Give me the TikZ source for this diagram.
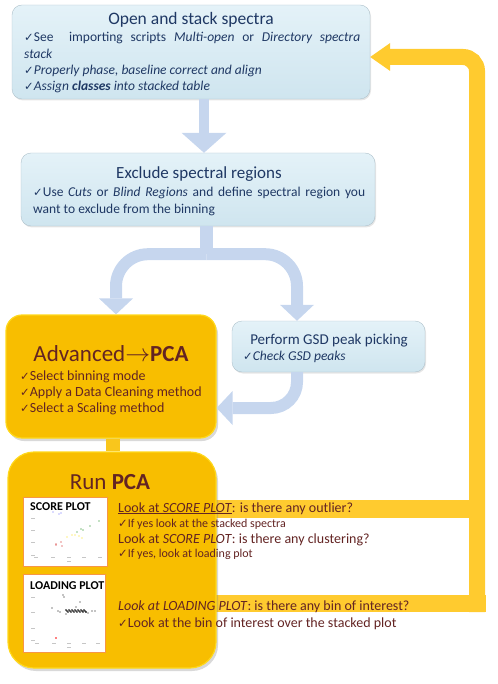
\documentclass[tikz,border=0pt]{standalone}
\usepackage{fontspec}
\setmainfont{Carlito}
\newfontfamily\symfont{DejaVu Sans}
\usetikzlibrary{arrows.meta,shadows}

\definecolor{bluetop}{HTML}{E4F2F8}
\definecolor{bluebot}{HTML}{CFE5EF}
\definecolor{boxedge}{HTML}{AFC2CC}
\definecolor{arrowblue}{HTML}{C6D6EE}
\definecolor{navy}{HTML}{1F3864}
\definecolor{goldfill}{HTML}{F8BE00}
\definecolor{goldedge}{HTML}{FFD81A}
\definecolor{goldlink}{HTML}{F9C61C}
\definecolor{loopyellow}{HTML}{FFCB2F}
\definecolor{maroon}{HTML}{632423}
\definecolor{plotorange}{HTML}{F79646}

\newcommand\chk{{\symfont\fontsize{11.5}{12}\selectfont ✓}}

\tikzset{
  bluebox/.style={draw=boxedge, rounded corners=10pt, top color=bluetop, bottom color=bluebot,
    drop shadow={opacity=0.2, shadow xshift=1pt, shadow yshift=-1.5pt}},
  goldbox/.style={draw=goldedge, line width=1.2pt, fill=goldfill,
    drop shadow={opacity=0.3, shadow xshift=2pt, shadow yshift=-3pt}},
  bluearrow/.style={draw=arrowblue, line width=12pt},
  looparrow/.style={draw=loopyellow, line width=16pt, rounded corners=14pt,
    -{Triangle[width=28pt,length=20pt,line width=0pt]}},
  plotbox/.style={draw=plotorange, line width=1pt, fill=white, inner sep=0pt},
  txt/.style={anchor=base west, inner sep=0pt},
  bluetitle/.style={anchor=base, inner sep=0pt, text=navy, font=\fontsize{17.5}{20}\selectfont},
  bluetext/.style={txt, text=navy, font=\fontsize{13.5}{16}\selectfont},
  goldtext/.style={txt, text=maroon, font=\fontsize{14}{16}\selectfont},
  smalltext/.style={txt, text=maroon, font=\fontsize{12}{14}\selectfont},
  plottitle/.style={txt, font=\bfseries\fontsize{12}{14}\selectfont},
  tick/.style={gray!45, line width=0.6pt}
}

\begin{document}
\begin{tikzpicture}[x=1pt,y=-1pt]
\useasboundingbox (0,0) rectangle (497,684);

% yellow bands behind the run box
\fill[loopyellow] (210,500) rectangle (477,518);
\fill[loopyellow] (210,595) rectangle (486,612);
\coordinate (loopBot) at (477,612);
\coordinate (loopTop) at (477,57);

% boxes
\node[bluebox, minimum width=358pt, minimum height=94pt] (open) at (191,52) {};
\node[bluebox, minimum width=354pt, minimum height=73pt] (exclude) at (198,189.5) {};
\node[goldbox, rounded corners=16pt, minimum width=210pt, minimum height=123pt] (adv) at (111,376.5) {};
\node[bluebox, minimum width=193pt, minimum height=51pt] (gsd) at (328.5,346.5) {};
\node[goldbox, rounded corners=26pt, minimum width=208pt, minimum height=216pt] (run) at (112,560) {};

% arrows
\draw[bluearrow, line width=10pt, -{Triangle[width=45pt,length=20pt,line width=0pt]}]
  ([xshift=13pt]open.south) -- ([xshift=6pt]exclude.north);
\coordinate (fork) at ([xshift=8.5pt,yshift=-28pt]exclude.south);
\draw[bluearrow, line width=13pt] ([xshift=8.5pt]exclude.south) -- (fork);
\draw[bluearrow, rounded corners=32pt, -{Triangle[width=34pt,length=16pt,line width=0pt]}]
  (fork) -| ([xshift=5pt]adv.north);
\draw[bluearrow, rounded corners=32pt, -{Triangle[width=34pt,length=16pt,line width=0pt]}]
  (fork) -| ([xshift=-31.5pt]gsd.north);
\draw[bluearrow, rounded corners=26pt, -{Triangle[width=34pt,length=16pt,line width=0pt]}]
  ([xshift=-31.5pt]gsd.south) |- ([yshift=-31.5pt]adv.east);
\draw[goldlink, line width=14pt] ([xshift=2pt]adv.south) -- ([xshift=1pt]run.north);
\draw[looparrow] (loopBot) -- (loopTop) -- (loopTop -| open.east);

% open and stack
\node[bluetitle] (openT) at (191,25) {Open and stack spectra};
\node[bluetext] (open1) at (24,42) {\makebox[336pt][s]{\chk See\ \ importing scripts \textit{Multi-open} or \textit{Directory spectra}}};
\node[bluetext] (open2) at (24,59) {\textit{stack}};
\node[bluetext] (open3) at (24,75) {\chk\textit{Properly phase, baseline correct and align}};
\node[bluetext] (open4) at (24,91) {\chk\textit{Assign \textbf{classes} into stacked table}};

% exclude
\node[bluetitle, font=\fontsize{17}{20}\selectfont] (excludeT) at (199,179) {Exclude spectral regions};
\node[bluetext] (exclude1) at (33,197) {\makebox[332pt][s]{\chk Use \textit{Cuts} or \textit{Blind Regions} and define spectral region you}};
\node[bluetext] (exclude2) at (33,214) {want to exclude from the binning};

% advanced
\node[anchor=base, inner sep=0pt, text=maroon, font=\fontsize{23}{26}\selectfont] (advT) at (111,361)
  {Advanced$\rightarrow$\textbf{PCA}};
\node[goldtext] (adv1) at (20,380) {\chk Select binning mode};
\node[goldtext] (adv2) at (20,396) {\chk Apply a Data Cleaning method};
\node[goldtext] (adv3) at (20,412) {\chk Select a Scaling method};

% gsd
\node[anchor=base, inner sep=0pt, text=navy, font=\fontsize{15}{17}\selectfont] (gsdT) at (329,344) {Perform GSD peak picking};
\node[bluetext] (gsd1) at (243,360) {\chk\textit{Check GSD peaks}};

% run pca
\node[anchor=base, inner sep=0pt, text=maroon, font=\fontsize{23}{26}\selectfont] (runT) at (110,489) {Run \textbf{PCA}};

% score plot
\node[plotbox, minimum width=84pt, minimum height=69pt] (score) at (65,531.5) {};
\node[plottitle] (scoreT) at (30,510) {SCORE PLOT};
\foreach \y in {518,530,542,555} \draw[tick] (31,\y) -- (35,\y);
\foreach \x in {36,53,69,84,100} \draw[tick] (\x-2,557) -- (\x+2,557);
\draw[tick] (67,561) -- (71,561);
\foreach \x/\y in {53/512,59/514,61/513} \fill[blue!60] (\x,\y) circle (0.7pt);
\foreach \x/\y in {99/521,90/526,81/529,83/530,77/532} \fill[green!50!black] (\x,\y) circle (0.7pt);
\foreach \x/\y in {72/535,75/535,79/536,82/538,67/537} \fill[yellow!80!orange] (\x,\y) circle (0.7pt);
\foreach \x/\y in {56/544,61/542,62/546,56/545} \fill[red!80!black] (\x,\y) circle (0.7pt);

% loading plot
\node[plotbox, minimum width=82pt, minimum height=78pt] (loading) at (64,613) {};
\node[plottitle] (loadingT) at (30,589) {LOADING PLOT};
\foreach \y in {597,612,628,640} \draw[tick] (31,\y) -- (35,\y);
\foreach \x in {37,54,69,84,98} \draw[tick] (\x-2,643) -- (\x+2,643);
\draw[tick] (67,647) -- (71,647);
\foreach \x/\y in {63/595,64/597,80/602,52/608,58/611,60/612,66/614,83/611,86/612,88/613,92/611,95/611,76/607}
  \fill[black] (\x,\y) circle (0.7pt);
\foreach \x in {66,67,...,86} \fill[black] (\x,{611+mod(\x,3)-1}) circle (0.8pt);
\fill[red] (56,638) circle (0.8pt);

% questions
\node[goldtext] (q1) at (118,512) {\underline{Look at \textit{SCORE PLOT}}: is there any outlier?};
\node[smalltext] (q1a) at (118,527.5) {\chk If yes look at the stacked spectra};
\node[goldtext] (q2) at (118,543) {Look at \textit{SCORE PLOT}: is there any clustering?};
\node[smalltext] (q2a) at (118,557.5) {\chk If yes, look at loading plot};
\node[goldtext] (q3) at (118,610) {\textit{Look at LOADING PLOT}: is there any bin of interest?};
\node[txt, text=maroon, font=\fontsize{14}{16}\selectfont] (q3a) at (118,627) {\chk Look at the bin of interest over the stacked plot};

\end{tikzpicture}
\end{document}
